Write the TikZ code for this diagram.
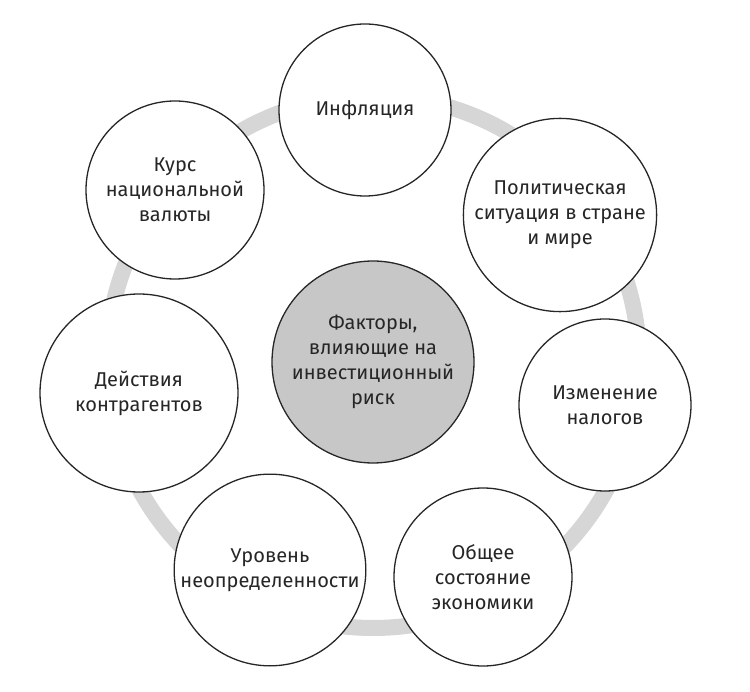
\documentclass[tikz,border=0pt]{standalone}
\usepackage{fontspec}
\setmainfont{Fira Sans}
\begin{document}
\begin{tikzpicture}[x=1pt,y=-1pt,
  fac/.style={circle,draw=black!85,line width=1.3pt,fill=white,align=center,font=\fontsize{20}{25}\selectfont,text=black!85},
  ctr/.style={fac,fill=black!22}]
\useasboundingbox (0,0) rectangle (750,692);
\draw[black!16,line width=16pt] (373,362) circle (266);
\node[ctr,minimum size=202pt] (c) at (373,362) {Факторы,\\влияющие на\\инвестиционный\\риск};
\node[fac,minimum size=172pt] (a) at (365,110) {Инфляция};
\node[fac,minimum size=172pt] (b) at (560,215) {Политическая\\ситуация в стране\\и мире};
\node[fac,minimum size=172pt] (d) at (605,405) {Изменение\\налогов};
\node[fac,minimum size=178pt] (e) at (483,577) {Общее\\состояние\\экономики};
\node[fac,minimum size=180pt] (f) at (270,570) {Уровень\\неопределенности};
\node[fac,minimum size=198pt] (g) at (139,393) {Действия\\контрагентов};
\node[fac,minimum size=178pt] (h) at (175,190) {Курс\\национальной\\валюты};
\end{tikzpicture}
\end{document}
